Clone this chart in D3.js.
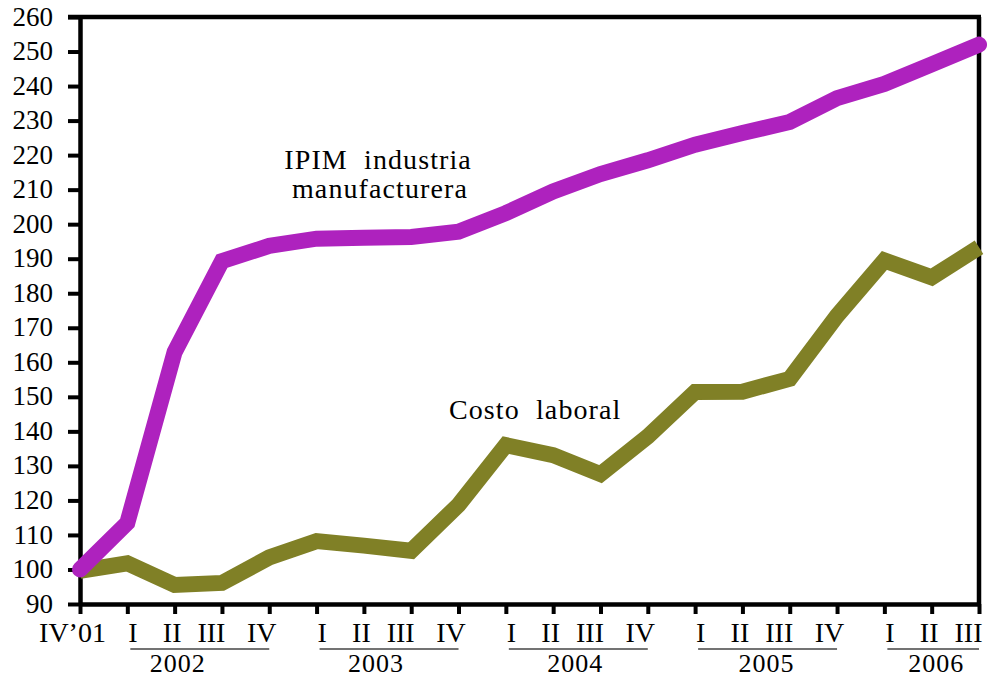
<!DOCTYPE html>
<html>
<head>
<meta charset="utf-8">
<script src="https://cdn.jsdelivr.net/npm/d3@7"></script>
<style>
  html, body { margin: 0; padding: 0; background: #fff; }
  svg { display: block; }
  text { font-family: "Liberation Serif", "Times New Roman", serif; fill: #000; }
</style>
</head>
<body>
<svg id="chart" width="987" height="678"></svg>
<script>
// ---- data ----
const quarters = ["IV\u201901", "I", "II", "III", "IV", "I", "II", "III", "IV", "I", "II", "III", "IV", "I", "II", "III", "IV", "I", "II", "III"];
const years = ["2002", "2003", "2004", "2005", "2006"];
const yearStart = [1, 5, 9, 13, 17];
const yearEnd = [4, 8, 12, 16, 19];
const ipim = [100, 113.5, 163, 189.3, 193.7, 195.8, 196.1, 196.3, 197.8, 203.2, 209.5, 214.5, 218.5, 223, 226.4, 229.6, 236.5, 240.6, 246.3, 252];
const costo = [99.6, 101.8, 95.5, 96.1, 103.5, 108.2, 106.9, 105.4, 118.7, 136, 133.1, 127.6, 138.5, 151.4, 151.5, 155.2, 173.5, 189.5, 184.6, 193.3];
const yTicks = [90, 100, 110, 120, 130, 140, 150, 160, 170, 180, 190, 200, 210, 220, 230, 240, 250, 260];
const labelIpim = ["IPIM  industria", "manufacturera"];
const labelCosto = "Costo  laboral";

(function () {
// ---- layout ----
const mLeft = 80, mRight = 979, mTop = 17, mBottom = 604;
const svg = d3.select("#chart");

const x = d3.scaleLinear().domain([0, quarters.length - 1]).range([mLeft, mRight]);
const y = d3.scaleLinear().domain([90, 260]).range([mBottom, mTop]);

const axisW = 4.5;
// label nudges (style only)
const nudge = { "I": 5, "II": -3, "III": -11, "IV": -8, "IV\u201901": -8 };
const yearNudge = [-22, -13, -3, -1, 3];

// frame top & right
svg.append("line").attr("x1", mLeft - 12).attr("x2", mRight + 2).attr("y1", y(260)).attr("y2", y(260))
  .attr("stroke", "#000").attr("stroke-width", axisW);
svg.append("line").attr("x1", mRight).attr("x2", mRight).attr("y1", y(260)).attr("y2", y(90))
  .attr("stroke", "#000").attr("stroke-width", axisW);

// y axis
const gy = svg.append("g").attr("transform", `translate(${mLeft},0)`)
  .call(d3.axisLeft(y).tickValues(yTicks).tickFormat(d3.format("d")).tickSize(12).tickSizeOuter(0).tickPadding(15));
gy.selectAll("path.domain").attr("stroke", "#000").attr("stroke-width", axisW);
gy.selectAll(".tick line").attr("stroke", "#000").attr("stroke-width", 4);
gy.selectAll(".tick text").attr("font-size", 27).attr("font-family", "Liberation Serif").attr("fill", "#000").attr("dy", "0.3em");

// x axis
const gx = svg.append("g").attr("transform", `translate(0,${mBottom})`)
  .call(d3.axisBottom(x).tickValues(d3.range(quarters.length)).tickFormat(i => quarters[i]).tickSize(10).tickSizeOuter(0));
gx.selectAll("path.domain").attr("stroke", "#000").attr("stroke-width", axisW);
gx.selectAll(".tick line").attr("stroke", "#000").attr("stroke-width", 4);
gx.selectAll(".tick text").attr("font-size", 28).attr("font-family", "Liberation Serif").attr("fill", "#000")
  .attr("y", 38).attr("dy", 0).attr("dx", i => nudge[quarters[i]] || 0);

// year underlines & labels
const yg = svg.append("g");
years.forEach((yr, k) => {
  const x1 = x(yearStart[k]) + 3, x2 = x(yearEnd[k]);
  yg.append("line").attr("x1", x1).attr("x2", x2).attr("y1", 649).attr("y2", 649)
    .attr("stroke", "#444").attr("stroke-width", 1.3);
  yg.append("text").attr("x", (x1 + x2) / 2 + yearNudge[k]).attr("y", 672).attr("text-anchor", "middle")
    .attr("font-size", 26).attr("letter-spacing", 1).text(yr);
});

// lines
const line = d3.line().x((d, i) => x(i)).y(d => y(d));
svg.append("path").datum(costo).attr("d", line).attr("fill", "none")
  .attr("stroke", "#808026").attr("stroke-width", 16).attr("stroke-linejoin", "miter").attr("stroke-miterlimit", 3);
svg.append("path").datum(ipim).attr("d", line).attr("fill", "none")
  .attr("stroke", "#AE22BE").attr("stroke-width", 16).attr("stroke-linejoin", "miter").attr("stroke-miterlimit", 3)
  .attr("stroke-linecap", "round");

// annotations
const ann = svg.append("g").attr("font-size", 28).attr("text-anchor", "middle").attr("letter-spacing", 1.1);
ann.append("text").attr("xml:space", "preserve").attr("x", x(6.3)).attr("y", y(216)).text(labelIpim[0]);
ann.append("text").attr("xml:space", "preserve").attr("x", x(6.34)).attr("y", y(207.6)).text(labelIpim[1]);
ann.append("text").attr("xml:space", "preserve").attr("x", x(9.62)).attr("y", y(143.7)).text(labelCosto);
})();
</script>
</body>
</html>
